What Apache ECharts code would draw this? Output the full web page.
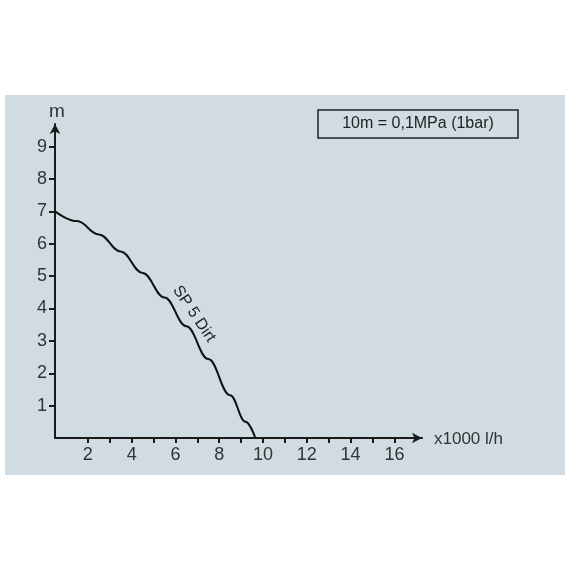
<!DOCTYPE html>
<html>
<head>
<meta charset="utf-8">
<script src="https://cdn.jsdelivr.net/npm/echarts@6/dist/echarts.min.js"></script>
<style>html,body{margin:0;padding:0;background:#fff}#main{width:570px;height:570px}</style>
</head>
<body>
<div id="main"></div>
<script>
var flowX = [0.5, 1.5, 2.5, 3.5, 4.5, 5.5, 6.5, 7.5, 8.5, 9.2, 9.65];
var headY = [7, 6.70, 6.29, 5.76, 5.10, 4.34, 3.45, 2.44, 1.32, 0.50, 0];
var xTicks = [2, 3, 4, 5, 6, 7, 8, 9, 10, 11, 12, 13, 14, 15, 16];
var xLabels = [2, 4, 6, 8, 10, 12, 14, 16];
var yTicks = [1, 2, 3, 4, 5, 6, 7, 8, 9];

var myChart = echarts.init(document.getElementById('main'));
var axisLine = {show: true, lineStyle: {color: '#1a1a1a', width: 2}, symbol: ['none', 'arrow'], symbolSize: [8, 10]};
var font = {color: '#333', fontSize: 18, fontFamily: 'Liberation Sans'};

var option = {
    animation: false,
    graphic: [
        {type: 'rect', z: -10, shape: {x: 5, y: 95, width: 560, height: 380}, style: {fill: '#d0dce2'}},
        {type: 'rect', shape: {x: 318, y: 110, width: 200, height: 28}, style: {fill: 'none', stroke: '#222', lineWidth: 1.5}},
        {type: 'text', x: 418, y: 124, style: {text: '10m = 0,1MPa (1bar)', fill: '#222', fontSize: 16, fontFamily: 'Liberation Sans', align: 'center', verticalAlign: 'middle'}},
        {type: 'text', x: 194, y: 314, rotation: -0.98, style: {text: 'SP 5 Dirt', fill: '#222', fontSize: 16, fontFamily: 'Liberation Sans', align: 'center', verticalAlign: 'middle'}},
        {type: 'text', x: 57, y: 112, style: {text: 'm', fill: '#333', fontSize: 19, fontFamily: 'Liberation Sans', align: 'center', verticalAlign: 'middle'}},
        {type: 'text', x: 434, y: 439, style: {text: 'x1000 l/h', fill: '#333', fontSize: 17, fontFamily: 'Liberation Sans', align: 'left', verticalAlign: 'middle'}}
    ],
    grid: {left: 55, right: 148, top: 124, bottom: 132},
    xAxis: {
        type: 'value', min: 0.5, max: 17.26,
        axisLine: axisLine,
        axisTick: {show: true, length: 5, customValues: xTicks, lineStyle: {color: '#1a1a1a', width: 2}},
        axisLabel: Object.assign({customValues: xLabels, margin: 8}, font),
        splitLine: {show: false}
    },
    yAxis: {
        type: 'value', min: 0, max: 9.7,
        axisLine: axisLine,
        axisTick: {show: true, length: 6, customValues: yTicks, lineStyle: {color: '#1a1a1a', width: 2}},
        axisLabel: Object.assign({customValues: yTicks, margin: 8}, font),
        splitLine: {show: false}
    },
    series: [{
        type: 'line',
        smooth: 0.4,
        smoothMonotone: 'x',
        symbol: 'none',
        data: flowX.map(function (x, i) { return [x, headY[i]]; }),
        lineStyle: {color: '#111', width: 2}
    }]
};
myChart.setOption(option);
</script>
</body>
</html>
